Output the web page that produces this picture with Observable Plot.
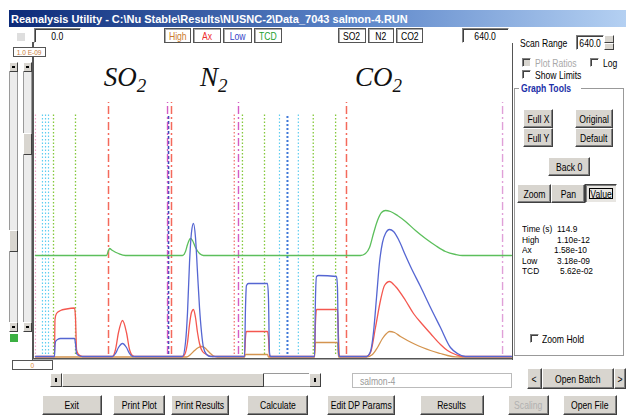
<!DOCTYPE html>
<html><head><meta charset="utf-8">
<script src="https://cdn.jsdelivr.net/npm/d3@7"></script>
<script src="https://cdn.jsdelivr.net/npm/@observablehq/plot@0.6"></script>
<style>
body{margin:0;background:#fff;}
#win{position:relative;width:626px;height:417px;overflow:hidden;background:#fff;font-family:"Liberation Sans",Arial,sans-serif;font-size:10.5px;color:#000;}
.a{position:absolute;box-sizing:border-box;}
.btn{position:absolute;box-sizing:border-box;background:#d8d5cf;border:1px solid;border-color:#fff #404040 #404040 #fff;box-shadow:inset -1px -1px #808080;display:flex;align-items:center;justify-content:center;white-space:nowrap;}
.inp{position:absolute;box-sizing:border-box;background:#fff;border:1px solid;border-color:#808080 #fff #fff #808080;box-shadow:inset 1px 1px #404040;display:flex;align-items:center;justify-content:center;white-space:nowrap;}
.tag{position:absolute;box-sizing:border-box;background:#fff;border:1px solid #555;box-shadow:inset 1px 1px #aaa;display:flex;align-items:center;justify-content:center;white-space:nowrap;}
.t{display:inline-block;transform:scaleX(0.82);}
.cb{position:absolute;box-sizing:border-box;width:9px;height:9px;background:#fff;border:1px solid;border-color:#808080 #fff #fff #808080;box-shadow:inset 1px 1px #404040;}
.lbl{position:absolute;white-space:nowrap;line-height:10px;transform:scaleX(0.82);transform-origin:0 0;}
.rd{font-size:9.5px;line-height:9px;transform:scaleX(0.88);}
.vs{position:absolute;box-sizing:border-box;background:#ececec;border:1px solid #9a9a9a;}
.arr{position:absolute;box-sizing:border-box;background:#d8d5cf;border:1px solid;border-color:#fff #404040 #404040 #fff;}
.arr i{position:absolute;left:50%;top:50%;width:3px;height:2px;margin:-1px 0 0 -1.5px;background:#000;}
</style></head>
<body>
<div id="win">
  <div class="a" style="left:9px;top:10px;width:617px;height:17px;background:linear-gradient(to right,#0c2a78,#5a84c8 55%,#b4d0f2);"></div>
  <div class="a" style="left:11px;top:13px;color:#fff;font-weight:bold;font-size:11px;line-height:12px;white-space:nowrap;">Reanalysis Utility - C:\Nu Stable\Results\NUSNC-2\Data_7043 salmon-4.RUN</div>

  <div class="a" style="left:17px;top:33px;width:8px;height:8px;background:#dedede;"></div>
  <div class="inp" style="left:34px;top:28px;width:47px;height:15px;">0.0</div>
  <div class="tag" style="left:164px;top:28px;width:27px;height:15px;color:#cc7a2c;">High</div>
  <div class="tag" style="left:193px;top:28px;width:28px;height:15px;color:#ee3030;">Ax</div>
  <div class="tag" style="left:223px;top:28px;width:29px;height:15px;color:#3444c8;">Low</div>
  <div class="tag" style="left:254px;top:28px;width:28px;height:15px;color:#22a030;">TCD</div>
  <div class="tag" style="left:338px;top:28px;width:28px;height:15px;">SO2</div>
  <div class="tag" style="left:368px;top:28px;width:26px;height:15px;">N2</div>
  <div class="tag" style="left:396px;top:28px;width:27px;height:15px;">CO2</div>
  <div class="inp" style="left:462px;top:28px;width:47px;height:15px;">640.0</div>

  <!-- left sliders -->
  <div class="vs" style="left:9px;top:62px;width:9px;height:270px;"></div>
  <div class="arr" style="left:9px;top:62px;width:9px;height:10px;"><i></i></div>
  <div class="arr" style="left:9px;top:322px;width:9px;height:10px;"><i></i></div>
  <div class="arr" style="left:9px;top:230px;width:9px;height:22px;"></div>
  <div class="vs" style="left:23px;top:62px;width:9px;height:270px;"></div>
  <div class="arr" style="left:23px;top:62px;width:9px;height:10px;"><i></i></div>
  <div class="arr" style="left:23px;top:322px;width:9px;height:10px;"><i></i></div>
  <div class="arr" style="left:23px;top:133px;width:9px;height:22px;"></div>
  <div class="a" style="left:10px;top:334px;width:8px;height:8px;background:#3cb043;"></div>

  <!-- plot frame -->
  <div id="plot" class="a" style="left:33px;top:44px;width:480px;height:316px;"></div>
  <div class="a" style="left:32px;top:42px;width:2px;height:318px;background:#555;"></div>
  <div class="a" style="left:33px;top:358px;width:480px;height:1px;background:#555;"></div>
  <div class="a" style="left:33px;top:359px;width:480px;height:1px;background:#aaa;"></div>
  <div class="a" style="left:512px;top:43px;width:1px;height:317px;background:#555;"></div>
  <div class="tag" style="left:13px;top:47px;width:33px;height:10px;font-size:8px;color:#c87c3c;box-shadow:none;">1.0 E-09</div>
  <div class="tag" style="left:12px;top:360px;width:41px;height:10px;font-size:8px;color:#e0903c;box-shadow:none;">0</div>

  <!-- right panel -->
  <div class="lbl" style="left:520px;top:38px;">Scan Range</div>
  <div class="inp" style="left:576px;top:35px;width:28px;height:15px;">640.0</div>
  <div class="arr" style="left:604px;top:35px;width:10px;height:8px;"></div>
  <div class="arr" style="left:604px;top:43px;width:10px;height:7px;"></div>
  <div class="cb" style="left:522px;top:58px;background:#d8d5cf;"></div>
  <div class="lbl" style="left:535px;top:58px;color:#a8a8a8;">Plot Ratios</div>
  <div class="cb" style="left:590px;top:58px;"></div>
  <div class="lbl" style="left:603px;top:58px;">Log</div>
  <div class="cb" style="left:522px;top:70px;"></div>
  <div class="lbl" style="left:535px;top:70px;">Show Limits</div>
  <div class="a" style="left:514px;top:88px;width:110px;height:268px;border:1px solid #999;box-shadow:inset 1px 1px #fff;"></div>
  <div class="a" style="left:519px;top:83px;width:62px;height:10px;background:#fff;"></div>
  <div class="lbl" style="left:521px;top:83px;color:#1c2fa8;font-weight:bold;">Graph Tools</div>
  <div class="btn" style="left:523px;top:109px;width:30px;height:19px;">Full X</div>
  <div class="btn" style="left:523px;top:128px;width:30px;height:19px;">Full Y</div>
  <div class="btn" style="left:575px;top:109px;width:38px;height:19px;">Original</div>
  <div class="btn" style="left:575px;top:128px;width:38px;height:19px;">Default</div>
  <div class="btn" style="left:548px;top:157px;width:42px;height:19px;">Back 0</div>
  <div class="btn" style="left:517px;top:184px;width:34px;height:19px;">Zoom</div>
  <div class="btn" style="left:551px;top:184px;width:34px;height:19px;">Pan</div>
  <div class="btn" style="left:585px;top:184px;width:32px;height:19px;border-color:#404040 #fff #fff #404040;box-shadow:inset 1px 1px #808080;background:#e8e6e2;"><div class="a" style="left:3px;top:3px;width:24px;height:11px;border:1px solid #000;"></div>Value</div>
  <div id="vals"></div>
  <div class="cb" style="left:530px;top:334px;"></div>
  <div class="lbl" style="left:542px;top:334px;">Zoom Hold</div>

  <!-- bottom -->
  <div class="a" style="left:50px;top:373px;width:271px;height:14px;background:#fff;border:1px solid #9a9a9a;"></div>
  <div class="arr" style="left:50px;top:373px;width:12px;height:14px;"><i style="width:2px;height:4px;margin:-2px 0 0 -1px;"></i></div>
  <div class="arr" style="left:62px;top:373px;width:202px;height:14px;"></div>
  <div class="arr" style="left:309px;top:373px;width:12px;height:14px;"><i style="width:2px;height:4px;margin:-2px 0 0 -1px;"></i></div>
  <div class="inp" style="left:352px;top:373px;width:160px;height:15px;justify-content:flex-start;padding-left:3px;color:#9a9a9a;box-shadow:none;border-color:#bbb;">salmon-4</div>
  <div class="btn" style="left:527px;top:368px;width:15px;height:21px;">&lt;</div>
  <div class="btn" style="left:542px;top:368px;width:72px;height:21px;">Open Batch</div>
  <div class="btn" style="left:614px;top:368px;width:12px;height:21px;">&gt;</div>
  <div class="btn" style="left:42px;top:395px;width:60px;height:20px;">Exit</div>
  <div class="btn" style="left:113px;top:395px;width:52px;height:20px;">Print Plot</div>
  <div class="btn" style="left:171px;top:395px;width:58px;height:20px;">Print Results</div>
  <div class="btn" style="left:247px;top:395px;width:61px;height:20px;">Calculate</div>
  <div class="btn" style="left:327px;top:395px;width:68px;height:20px;">Edit DP Params</div>
  <div class="btn" style="left:420px;top:395px;width:64px;height:20px;">Results</div>
  <div class="btn" style="left:508px;top:395px;width:41px;height:20px;color:#b0b0b0;">Scaling</div>
  <div class="btn" style="left:563px;top:395px;width:54px;height:20px;">Open File</div>
</div>
<script>
// ---- data (time in s, signal in display units above the baseline) ----
const tcdTrace = [[1.3,102],[96.6,102],[99.3,107],[100.6,109],[104.7,107],[112.7,104],[122.1,102],[198.6,102],[202.6,106],[205.3,113],[209.3,119],[212,117],[216,110],[221.4,104],[226.7,102],[437.4,102],[444.1,104],[449.5,110],[454.8,124],[460.2,137],[465.6,145],[470.9,147],[477.6,146],[487,142],[497.8,136],[511.2,127],[524.6,119],[538,112],[551.4,106],[564.9,103],[574.2,102],[640,102]];
const highTrace = [[1.3,0.5],[26.8,0.5],[55,0.5],[203.9,0.5],[209.3,3],[214.7,7],[220,10],[224.1,11],[228.1,10],[232.1,7],[236.1,4],[240.2,1.5],[245.5,0.5],[281.8,0.5],[283.1,3],[312.6,3],[313.9,0.5],[375.7,0.5],[377,15],[406.5,15],[407.9,0.5],[445.5,0.5],[453.5,3],[460.2,10],[466.9,19],[472.3,24],[476.3,26],[483,25],[491,21],[500.4,17],[511.2,13],[520.6,10],[531.3,7],[544.7,4],[554.1,2],[564.9,0.7],[578.2,0.5],[640,0.5]];
const axTrace = [[1.3,1],[24.2,1],[26.8,1],[27.5,38],[29.5,44],[34.9,47],[42.9,48.5],[53.7,49.5],[55,40],[56.4,8],[59,3],[64.4,1],[104.7,1],[108.7,8],[112.7,25],[118.1,37],[123.4,25],[127.5,8],[131.5,2],[135.5,1],[198.6,1],[202.6,5],[205.3,15],[208,33],[210.6,45],[213.3,48],[216,40],[218.7,25],[221.4,14],[225.4,6],[230.8,3],[238.8,1],[281.8,1],[283.1,20],[284.4,26],[312.6,26],[313.9,20],[315.3,1],[375.7,1],[377,35],[378.4,48],[406.5,48],[407.9,20],[409.2,1],[445.5,1],[450.8,5],[457.5,30],[464.2,57],[469.6,72],[476.3,76],[484.4,71],[497.8,57],[508.5,44],[520.6,33],[531.3,24],[544.7,13],[554.1,7],[564.9,3],[574.2,1],[640,1]];
const lowTrace = [[1.3,1],[24.2,1],[26.8,1],[27.5,12],[28.2,16],[30.9,18],[34.9,19],[53.7,19],[55,14],[56.4,4],[59,2],[64.4,1],[104.7,1],[108.7,4],[112.7,10],[118.1,14],[123.4,10],[127.5,4],[131.5,1],[198.6,1],[202.6,15],[205.3,45],[208,95],[210.6,125],[213.3,134],[216,120],[218.7,85],[221.4,50],[224.1,25],[226.7,10],[230.8,3],[236.1,1],[281.8,1],[283.1,50],[284.4,72],[287.1,74],[312.6,74],[313.9,60],[315.3,5],[316.6,1],[375.7,1],[377,60],[378.4,81],[381.1,82],[405.2,81],[406.5,70],[407.9,5],[409.2,1],[445.5,1],[450.8,6],[454.8,25],[458.9,60],[462.9,95],[466.9,115],[470.9,124],[476.3,128],[481.7,126],[488.4,118],[497.8,102],[504.5,91],[517.9,71],[531.3,50],[544.7,30],[558.1,10],[567.5,4],[578.2,1],[640,1]];

// marker lines (time, s)
const dotPinkT = [1.3];
const dotCyanT = [10.7, 14.8, 18.8, 328.7, 354];
const dotGreenT = [25.5, 55, 279, 308.6, 374, 404];
const dotBlueT = [339.4];
const dotRedT = [268];
const dashBlueT = [179.8];
const dashRedT = [99.3, 183.8, 418.6];
const dashMagentaT = [178.5, 273.7];
const dashPinkT = [628];
const dashTop = 255, dotTop = 243, ruleBottom = 3;

// peak labels
const labelNames = ["SO", "N", "CO"];
const labelSubs = ["2", "2", "2"];
const labelTimes = [93, 222, 430];
const labelLevel = 272;

// readout panel
const readNames = ["Time (s)", "High", "Ax", "Low", "TCD"];
const readValues = ["114.9", "1.10e-12", "1.58e-10", "3.18e-09", "5.62e-02"];

document.querySelectorAll(".btn,.inp,.tag").forEach(el => {
  el.childNodes.forEach(n => {
    if (n.nodeType === 3 && n.textContent.trim()) {
      const s = document.createElement("span"); s.className = "t"; s.textContent = n.textContent; el.replaceChild(s, n);
    }
  });
});

const vals = document.getElementById("vals");
const readLeft = [557, 557, 554, 557, 560];
readNames.forEach((n, i) => {
  const top = 224 + i * 10.5;
  vals.insertAdjacentHTML("beforeend",
    `<div class="lbl rd" style="left:522px;top:${top}px;">${n}</div><div class="lbl rd" style="left:${readLeft[i]}px;top:${top}px;">${readValues[i]}</div>`);
});

const rule = (ts, stroke, dash, w, top) => Plot.ruleX(ts, {x: d => d, y1: ruleBottom, y2: top, stroke, strokeDasharray: dash, strokeWidth: w});
const line = (data, stroke) => Plot.line(data, {x: d => d[0], y: d => d[1], stroke, strokeWidth: 1.3, curve: "monotone-x"});

const labels = labelNames.map((n, i) => ({name: n, t: labelTimes[i]}));

const svg = Plot.plot({
  width: 480, height: 316,
  marginLeft: 1, marginRight: 2, marginTop: 0, marginBottom: 3,
  x: {domain: [0, 640], axis: null},
  y: {domain: [0, 313], axis: null},
  style: {background: "transparent", overflow: "visible"},
  marks: [
    rule(dotPinkT, "#f2a6cc", "1.5,2", 1.2, dotTop),
    rule(dotCyanT, "#5fcdf0", "1.5,2", 1.2, dotTop),
    rule(dotGreenT, "#84c83c", "1.5,2", 1.3, dotTop),
    rule(dotBlueT, "#3f78d8", "2,2", 2, dotTop),
    rule(dotRedT, "#f07068", "1.5,2", 1.2, dotTop),
    rule(dashBlueT, "#3848b8", "3,2", 1.6, dotTop),
    rule(dashRedT, "#f46a5c", "8,3,2,3", 1.5, dashTop),
    rule(dashMagentaT, "#d45cc4", "8,3,2,3", 1.4, dashTop),
    rule(dashPinkT, "#e0a0d8", "8,3,2,3", 1.4, dashTop),
    line(tcdTrace, "#5cbf5c"),
    line(highTrace, "#d4944f"),
    line(axTrace, "#f4574f"),
    line(lowTrace, "#5566d2"),
    Plot.text(labels, {x: "t", y: labelLevel, text: "name", textAnchor: "start", lineAnchor: "bottom",
      fontFamily: "Liberation Serif", fontStyle: "italic", fontSize: 27, fill: "#111"})
  ]
});
d3.select(svg).selectAll('g[aria-label="text"] text').each(function(_, i) {
  d3.select(this).append("tspan").attr("dy", 6).attr("font-size", 19).text(labelSubs[i]);
});
document.getElementById("plot").appendChild(svg);
</script>
</body></html>
